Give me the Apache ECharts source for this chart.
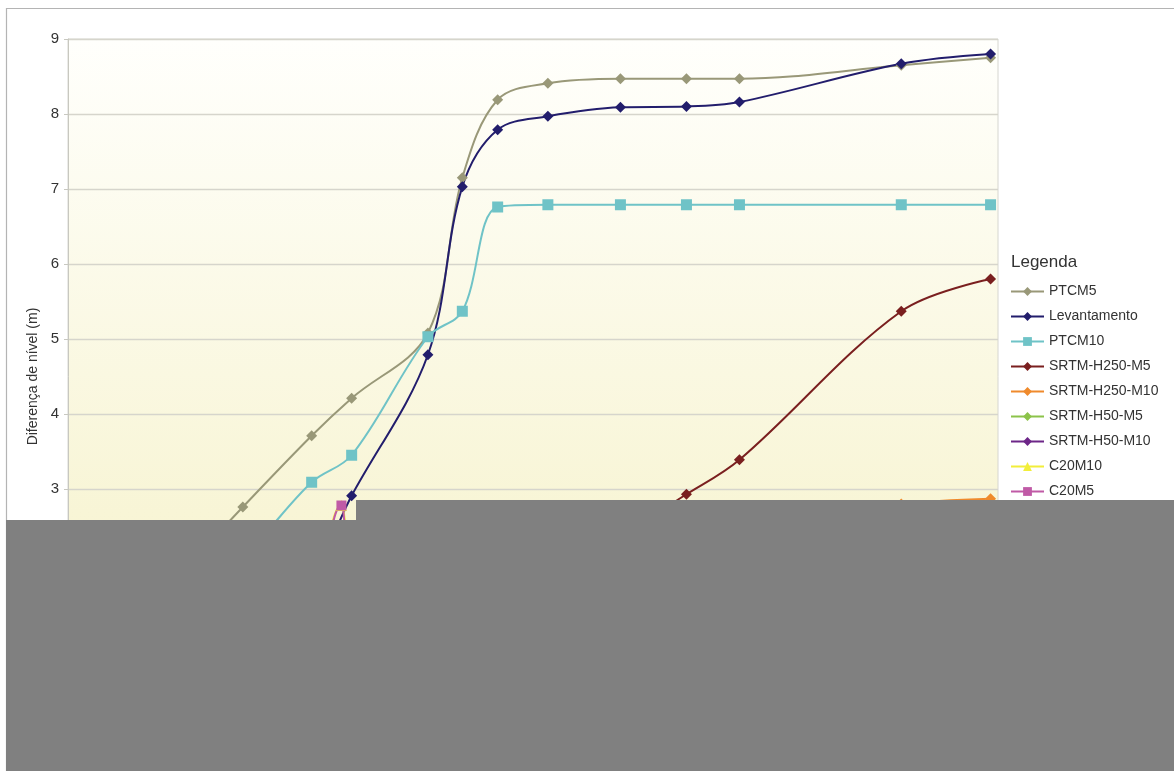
<!DOCTYPE html>
<html>
<head>
<meta charset="utf-8">
<script src="https://cdn.jsdelivr.net/npm/echarts@6/dist/echarts.min.js"></script>
<style>html,body{margin:0;padding:0;background:#fff;}#c{width:1174px;height:771px;}</style>
</head>
<body>
<div id="c"></div>
<script>
// Shared x positions (x-axis labels are not readable in the reference)
const xPos = [100, 188, 262, 305, 387, 424, 462, 516, 594, 665, 722, 896, 992];
const ptcm5        = [1.6, 2.76, 3.71, 4.21, 5.08, 7.15, 8.19, 8.41, 8.47, 8.47, 8.47, 8.65, 8.75];
const levantamento = [0.7, 1.2, 1.9, 2.91, 4.79, 7.03, 7.79, 7.97, 8.09, 8.10, 8.16, 8.67, 8.80];
const ptcm10       = [1.3, 2.1, 3.09, 3.45, 5.03, 5.37, 6.76, 6.79, 6.79, 6.79, 6.79, 6.79, 6.79];
const srtmH250M5   = [0.9, 1.2, 1.4, 1.6, 1.8, 1.9, 2.0, 2.1, 2.4, 2.93, 3.39, 5.37, 5.80];
const srtmH250M10  = [0.8, 1.0, 1.3, 1.5, 1.7, 1.8, 1.9, 2.0, 2.2, 2.4, 2.5, 2.80, 2.87];
const srtmH50M5    = [0.7, 0.9, 1.2, 1.4, 1.6, 1.7, 1.8, 1.9, 2.0, 2.1, 2.2, 2.4, 2.5];
const srtmH50M10   = [0.6, 0.8, 1.1, 1.3, 1.5, 1.6, 1.7, 1.8, 1.9, 2.0, 2.1, 2.3, 2.4];
const c20X         = [100, 188, 262, 294, 305, 387, 462, 594, 722, 896, 992];
const c20M10       = [0.9, 1.2, 1.8, 2.78, 2.4, 2.5, 2.6, 2.6, 2.6, 2.6, 2.6];
const c20M5        = [0.8, 1.1, 1.7, 2.78, 2.3, 2.4, 2.5, 2.5, 2.5, 2.5, 2.5];
const yTicks = [0, 1, 2, 3, 4, 5, 6, 7, 8, 9];

const pairs = (xs, ys) => xs.map((x, i) => [x, ys[i]]);

const seriesDefs = [
  { name: 'PTCM5', x: xPos, y: ptcm5, color: '#999878', symbol: 'diamond', size: 11 },
  { name: 'Levantamento', x: xPos, y: levantamento, color: '#221d6c', symbol: 'diamond', size: 11 },
  { name: 'PTCM10', x: xPos, y: ptcm10, color: '#6fc3c7', symbol: 'rect', size: 11 },
  { name: 'SRTM-H250-M5', x: xPos, y: srtmH250M5, color: '#7a1f1f', symbol: 'diamond', size: 11 },
  { name: 'SRTM-H250-M10', x: xPos, y: srtmH250M10, color: '#ef8a2c', symbol: 'diamond', size: 11 },
  { name: 'SRTM-H50-M5', x: xPos, y: srtmH50M5, color: '#8cc34a', symbol: 'diamond', size: 11 },
  { name: 'SRTM-H50-M10', x: xPos, y: srtmH50M10, color: '#6d2688', symbol: 'diamond', size: 11 },
  { name: 'C20M10', x: c20X, y: c20M10, color: '#f2ee3a', symbol: 'triangle', size: 11 },
  { name: 'C20M5', x: c20X, y: c20M5, color: '#c05aa6', symbol: 'rect', size: 10 }
];

const chart = echarts.init(document.getElementById('c'), null, { renderer: 'canvas' });
const FONT = '"Liberation Sans", Arial, sans-serif';

chart.setOption({
  animation: false,
  backgroundColor: '#ffffff',
  textStyle: { fontFamily: FONT },
  title: {
    text: 'Legenda',
    left: 1006, top: 249,
    textStyle: { fontFamily: FONT, fontSize: 17, fontWeight: 'normal', color: '#333' }
  },
  legend: {
    orient: 'vertical',
    left: 1005, top: 279,
    itemWidth: 33, itemHeight: 11, itemGap: 10,
    textStyle: { fontFamily: FONT, fontSize: 14, color: '#333', lineHeight: 15 },
    data: seriesDefs.map(s => s.name)
  },
  grid: {
    left: 68, top: 39, width: 930, height: 675,
    show: true,
    borderColor: '#d6d6d0', borderWidth: 1,
    backgroundColor: new echarts.graphic.LinearGradient(0, 0, 0, 1, [
      { offset: 0, color: '#fffffc' },
      { offset: 0.7, color: '#f8f5d6' },
      { offset: 1, color: '#f6f2cc' }
    ])
  },
  xAxis: {
    type: 'value', min: 0, max: 1000, interval: 100,
    axisLine: { show: true, lineStyle: { color: '#bbbbbb' } },
    axisTick: { show: true, lineStyle: { color: '#bbbbbb' } },
    splitLine: { show: false },
    axisLabel: { color: '#333', fontSize: 14 }
  },
  yAxis: {
    type: 'value', min: 0, max: 9, interval: 1,
    name: 'Diferença de nível (m)',
    nameLocation: 'middle', nameGap: 23, nameRotate: 90,
    nameTextStyle: { fontFamily: FONT, fontSize: 14, color: '#333' },
    axisLine: { show: true, lineStyle: { color: '#c8c8c0' } },
    axisTick: { show: true, length: 4, lineStyle: { color: '#c8c8c0' } },
    axisLabel: { color: '#333', fontSize: 15, margin: 9,
      formatter: v => yTicks.includes(v) ? String(v) : '' },
    splitLine: { show: true, lineStyle: { color: '#d6d5cc', width: 1.3 } }
  },
  series: seriesDefs.map(s => ({
    name: s.name,
    type: 'line',
    smooth: 0.35,
    data: pairs(s.x, s.y),
    symbol: s.symbol,
    symbolSize: s.size,
    showSymbol: true,
    lineStyle: { color: s.color, width: 2 },
    itemStyle: { color: s.color },
    emphasis: { disabled: true }
  })),
  graphic: [
    { type: 'rect', z: 100, silent: true,
      shape: { x: 6.5, y: 8.5, width: 1200, height: 800 },
      style: { fill: 'none', stroke: '#b4b4b4', lineWidth: 1.2 } },
    { type: 'rect', z: 101, silent: true,
      shape: { x: 6, y: 520, width: 1168, height: 251 },
      style: { fill: '#808080' } },
    { type: 'rect', z: 101, silent: true,
      shape: { x: 356, y: 500, width: 818, height: 21 },
      style: { fill: '#808080' } }
  ]
});
</script>
</body>
</html>
